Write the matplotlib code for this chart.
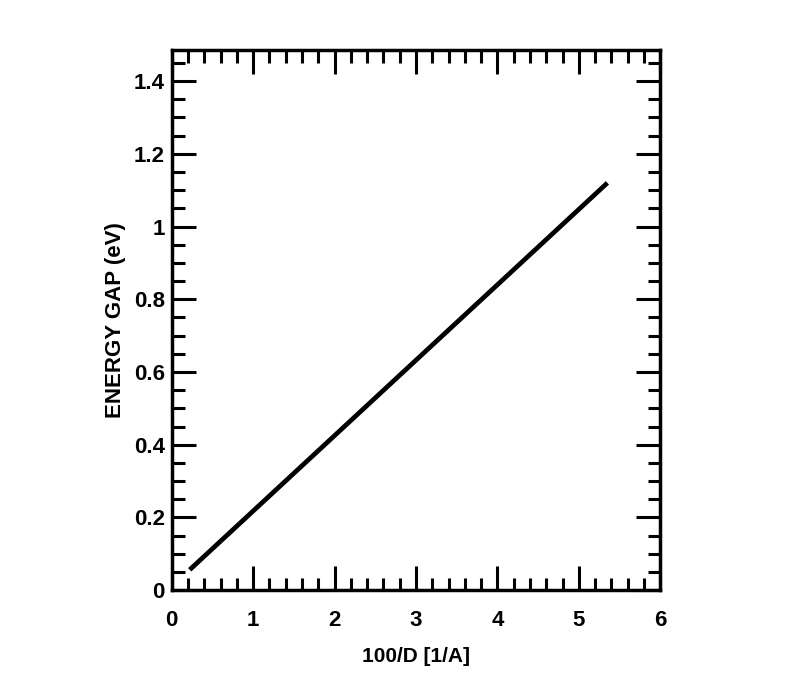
import numpy as np
import matplotlib
matplotlib.use("Agg")
import matplotlib.pyplot as plt
from matplotlib.ticker import MultipleLocator

# energy gap vs inverse diameter (linear)
inv_d = [0.22, 5.35]
gap = [0.056, 1.12]

x_ticks = [0, 1, 2, 3, 4, 5, 6]
y_ticks = [0, 0.2, 0.4, 0.6, 0.8, 1.0, 1.2, 1.4]
y_tick_labels = ["0", "0.2", "0.4", "0.6", "0.8", "1", "1.2", "1.4"]

plt.rcParams['font.family'] = ['Liberation Sans', 'DejaVu Sans']

fig = plt.figure(figsize=(7.88, 6.87), dpi=100)
ax = fig.add_axes([0.218, 0.141, 0.620, 0.786])

ax.plot(inv_d, gap, color='black', linewidth=3.4, solid_capstyle='butt')

ax.set_xlim(0, 6)
ax.set_ylim(0, 1.485)
ax.set_xticks(x_ticks)
ax.set_yticks(y_ticks)
ax.set_yticklabels(y_tick_labels)
ax.xaxis.set_minor_locator(MultipleLocator(0.2))
ax.yaxis.set_minor_locator(MultipleLocator(0.05))

ax.tick_params(which='both', direction='in', top=True, right=True, width=2.2)
ax.tick_params(which='major', length=17, labelsize=16)
ax.tick_params(which='minor', length=9)
ax.tick_params(axis='x', which='major', pad=14)
ax.tick_params(axis='y', which='major', pad=5)
for lab in ax.get_xticklabels() + ax.get_yticklabels():
    lab.set_fontweight('bold')

for sp in ax.spines.values():
    sp.set_linewidth(2.5)

ax.set_xlabel('100/D [1/A]', fontsize=15, fontweight='bold', labelpad=12)
ax.set_ylabel('ENERGY GAP (eV)', fontsize=16, fontweight='bold', labelpad=6)

plt.savefig('out.png', dpi=100)
